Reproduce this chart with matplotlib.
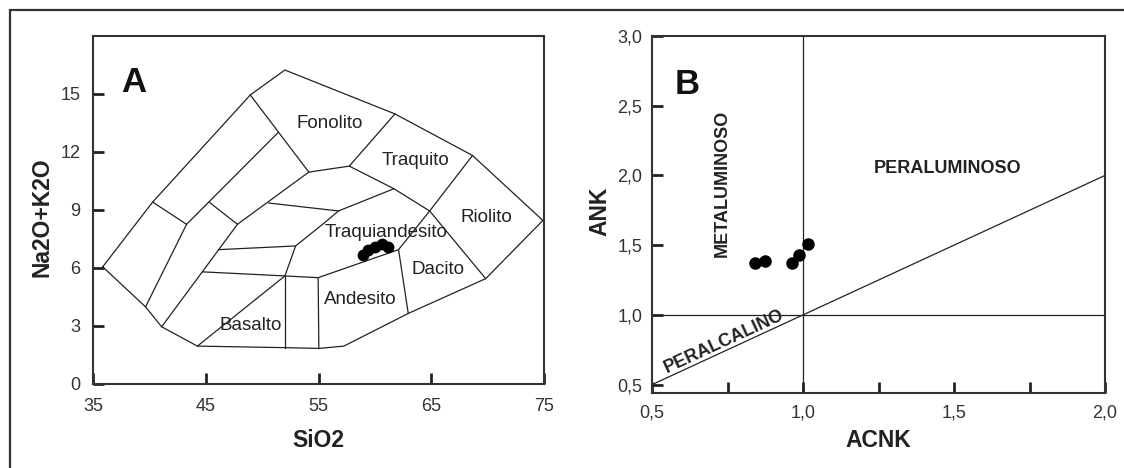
import matplotlib
matplotlib.use('Agg')
import matplotlib.pyplot as plt
from matplotlib.patches import Rectangle
from matplotlib.ticker import FuncFormatter

plt.rcParams['font.family'] = ['Liberation Sans', 'DejaVu Sans']

# ---- panel A: TAS diagram (SiO2 vs Na2O+K2O) ----
tas_outline = [(35.86, 6.06), (40.29, 9.41), (48.95, 14.95), (52.02, 16.24), (61.78, 13.97),
               (68.66, 11.82), (74.90, 8.46), (69.83, 5.45), (62.96, 3.65), (57.25, 1.96),
               (55.03, 1.84), (52.02, 1.88), (44.26, 1.96), (41.09, 2.96), (39.66, 3.99),
               (35.86, 6.06)]

tas_boundaries = [
    [(40.29, 9.41), (43.30, 8.26)],
    [(39.66, 3.99), (43.30, 8.26), (51.39, 12.99)],
    [(45.36, 9.38), (47.81, 8.26)],
    [(41.09, 2.96), (47.81, 8.26), (54.14, 10.96), (57.73, 11.27), (61.69, 10.10),
     (64.86, 8.95), (69.83, 5.45)],
    [(48.95, 14.95), (54.14, 10.96)],
    [(57.73, 11.27), (61.78, 13.97)],
    [(64.86, 8.95), (68.66, 11.82)],
    [(50.59, 9.36), (56.77, 8.95), (61.69, 10.10)],
    [(46.16, 6.95), (52.97, 7.14)],
    [(52.02, 5.59), (52.97, 7.14), (55.51, 8.33), (56.77, 8.95)],
    [(44.73, 5.80), (52.02, 5.59), (54.97, 5.50), (62.10, 6.95), (64.86, 8.95)],
    [(52.02, 5.59), (52.02, 1.88)],
    [(54.97, 5.50), (55.03, 1.84)],
    [(62.10, 6.95), (62.96, 3.65)],
    [(44.26, 1.96), (52.02, 5.59)],
]

tas_names = ['Fonolito', 'Traquito', 'Riolito', 'Traquiandesito', 'Dacito', 'Andesito', 'Basalto']
tas_name_x = [55.96, 63.56, 69.92, 60.99, 65.57, 58.74, 48.98]
tas_name_y = [13.47, 11.55, 8.62, 7.85, 5.93, 4.37, 3.01]

sio2 = [58.97, 59.42, 60.01, 60.60, 61.19]
alk = [6.65, 6.91, 7.08, 7.22, 7.08]

# ---- panel B: ACNK vs ANK ----
acnk = [0.841, 0.874, 0.962, 0.987, 1.015]
ank = [1.37, 1.39, 1.37, 1.43, 1.51]

line_col = '#222222'
txt_col = '#222222'

fig = plt.figure(figsize=(11.24, 4.68), dpi=100)

# outer frame (runs off right and bottom edge)
fig.add_artist(Rectangle((10/1124, -0.05), 1.1, 1 - 10/468 + 0.05, transform=fig.transFigure,
                         fill=False, edgecolor='#333333', lw=1.6))

axA = fig.add_axes([93/1124, 84/468, 451/1124, 348/468])
axB = fig.add_axes([652/1124, 75/468, 453/1124, 357/468])

for ax in (axA, axB):
    for s in ax.spines.values():
        s.set_linewidth(1.5)
        s.set_color('#333333')
    ax.tick_params(direction='in', length=8, width=2, color='#222222',
                   labelsize=13, labelcolor='#333333')
    ax.tick_params(which='minor', direction='in', length=8, width=2, color='#222222')
    ax.tick_params(top=False, right=False)

# panel A
ox = [p[0] for p in tas_outline]
oy = [p[1] for p in tas_outline]
axA.plot(ox, oy, color=line_col, lw=0.9)
for seg in tas_boundaries:
    axA.plot([p[0] for p in seg], [p[1] for p in seg], color=line_col, lw=0.9)
for name, x, y in zip(tas_names, tas_name_x, tas_name_y):
    axA.text(x, y, name, ha='center', va='center', fontsize=13.5, color=txt_col)
axA.plot(sio2, alk, 'o', color='black', ms=7.5)
axA.text(38.58, 15.58, 'A', ha='center', va='center', fontsize=25, fontweight='bold', color='#111111')

axA.set_xlim(35, 75)
axA.set_ylim(0, 18)
axA.set_xticks([35, 45, 55, 65, 75])
axA.set_yticks([0, 3, 6, 9, 12, 15])
axA.tick_params(axis='x', pad=10)
axA.tick_params(axis='y', pad=9)
axA.set_xlabel('SiO2', fontsize=16.5, fontweight='bold', color=txt_col)
axA.set_ylabel('Na2O+K2O', fontsize=16.5, fontweight='bold', color=txt_col)
axA.xaxis.set_label_coords(0.5, -0.161)
axA.xaxis.label.set_va('center')
axA.yaxis.set_label_coords(-0.113, 0.48)
axA.yaxis.label.set_va('center')

# panel B
axB.plot([0.5, 2.0], [0.5, 2.0], color=line_col, lw=0.9)
axB.axvline(1.0, color=line_col, lw=0.9)
axB.axhline(1.0, color=line_col, lw=0.9)
axB.plot(acnk, ank, 'o', color='black', ms=8)
axB.text(0.615, 2.65, 'B', ha='center', va='center', fontsize=25, fontweight='bold', color='#111111')
axB.text(0.733, 1.94, 'METALUMINOSO', rotation=90, ha='center', va='center',
         fontsize=13, fontweight='bold', color=txt_col)
axB.text(1.479, 2.048, 'PERALUMINOSO', ha='center', va='center',
         fontsize=13, fontweight='bold', color=txt_col)
axB.text(0.738, 0.81, 'PERALCALINO', rotation=45, transform_rotates_text=True,
         rotation_mode='anchor', ha='center', va='center',
         fontsize=13, fontweight='bold', color=txt_col)

axB.set_xlim(0.5, 2.0)
axB.set_ylim(0.44, 3.0)
axB.set_xticks([0.5, 1.0, 1.5, 2.0])
axB.set_xticks([0.75, 1.25, 1.75], minor=True)
axB.set_yticks([0.5, 1.0, 1.5, 2.0, 2.5, 3.0])
comma = FuncFormatter(lambda v, p: ('%.1f' % v).replace('.', ','))
axB.xaxis.set_major_formatter(comma)
axB.yaxis.set_major_formatter(comma)
axB.tick_params(axis='x', pad=8)
axB.tick_params(axis='y', pad=7)
axB.set_xlabel('ACNK', fontsize=16.5, fontweight='bold', color=txt_col)
axB.set_ylabel('ANK', fontsize=16.5, fontweight='bold', color=txt_col)
axB.xaxis.set_label_coords(0.5, -0.132)
axB.xaxis.label.set_va('center')
axB.yaxis.set_label_coords(-0.115, 0.51)
axB.yaxis.label.set_va('center')

fig.savefig('out.png', dpi=100)
